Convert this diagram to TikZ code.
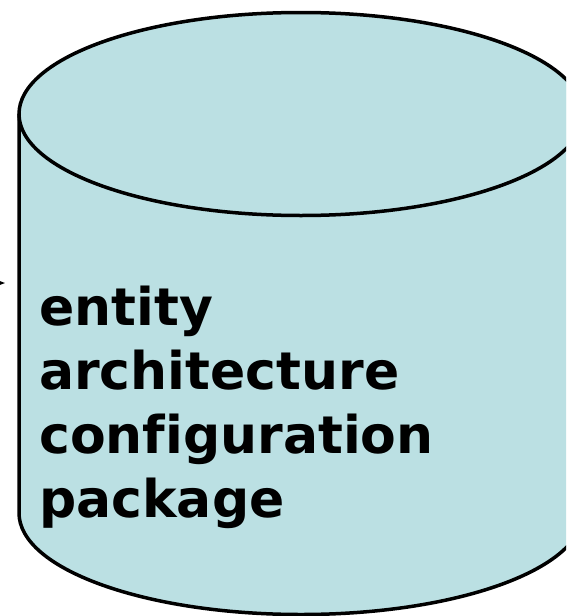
\documentclass[tikz,border=0pt]{standalone}
\usepackage{fontspec}
\setmainfont{DejaVu Sans}[Ligatures=NoCommon]
\usepackage{tikz}
\usetikzlibrary{positioning,arrows.meta}
\definecolor{drum}{RGB}{187,224,227}

\tikzset{
  drumline/.style={line width=3.5pt,draw=black},
  drumtext/.style={font=\bfseries\fontsize{52}{64}\selectfont,align=left,inner sep=0pt}
}

\begin{document}
\begin{tikzpicture}[x=1pt,y=-1pt]
\useasboundingbox (0,0) rectangle (566,616);
\clip (0,0) rectangle (566,616);
% Body of the store
\fill[drum] (19,114) -- (19,513) arc[start angle=180,end angle=360,x radius=282,y radius=-101.5]
  -- (583,114) arc[start angle=0,end angle=180,x radius=282,y radius=-101.5] -- cycle;
\draw[drumline] (19,114) -- (19,513) arc[start angle=180,end angle=360,x radius=282,y radius=-101.5]
  -- (583,114);
% Lid
\draw[drumline,fill=drum] (301,114) ellipse[x radius=282,y radius=101.5];
% Contents
\node[drumtext,anchor=base west] (units) at (39,517) {entity\\architecture\\configuration\\package};
% Incoming arrow, cut at the border
\coordinate (src) at (-40,283);
\coordinate (tip) at (5,283);
\draw[-{Stealth[length=12pt,width=9pt]},line width=1.5pt] (src) -- (tip);
\end{tikzpicture}
\end{document}
